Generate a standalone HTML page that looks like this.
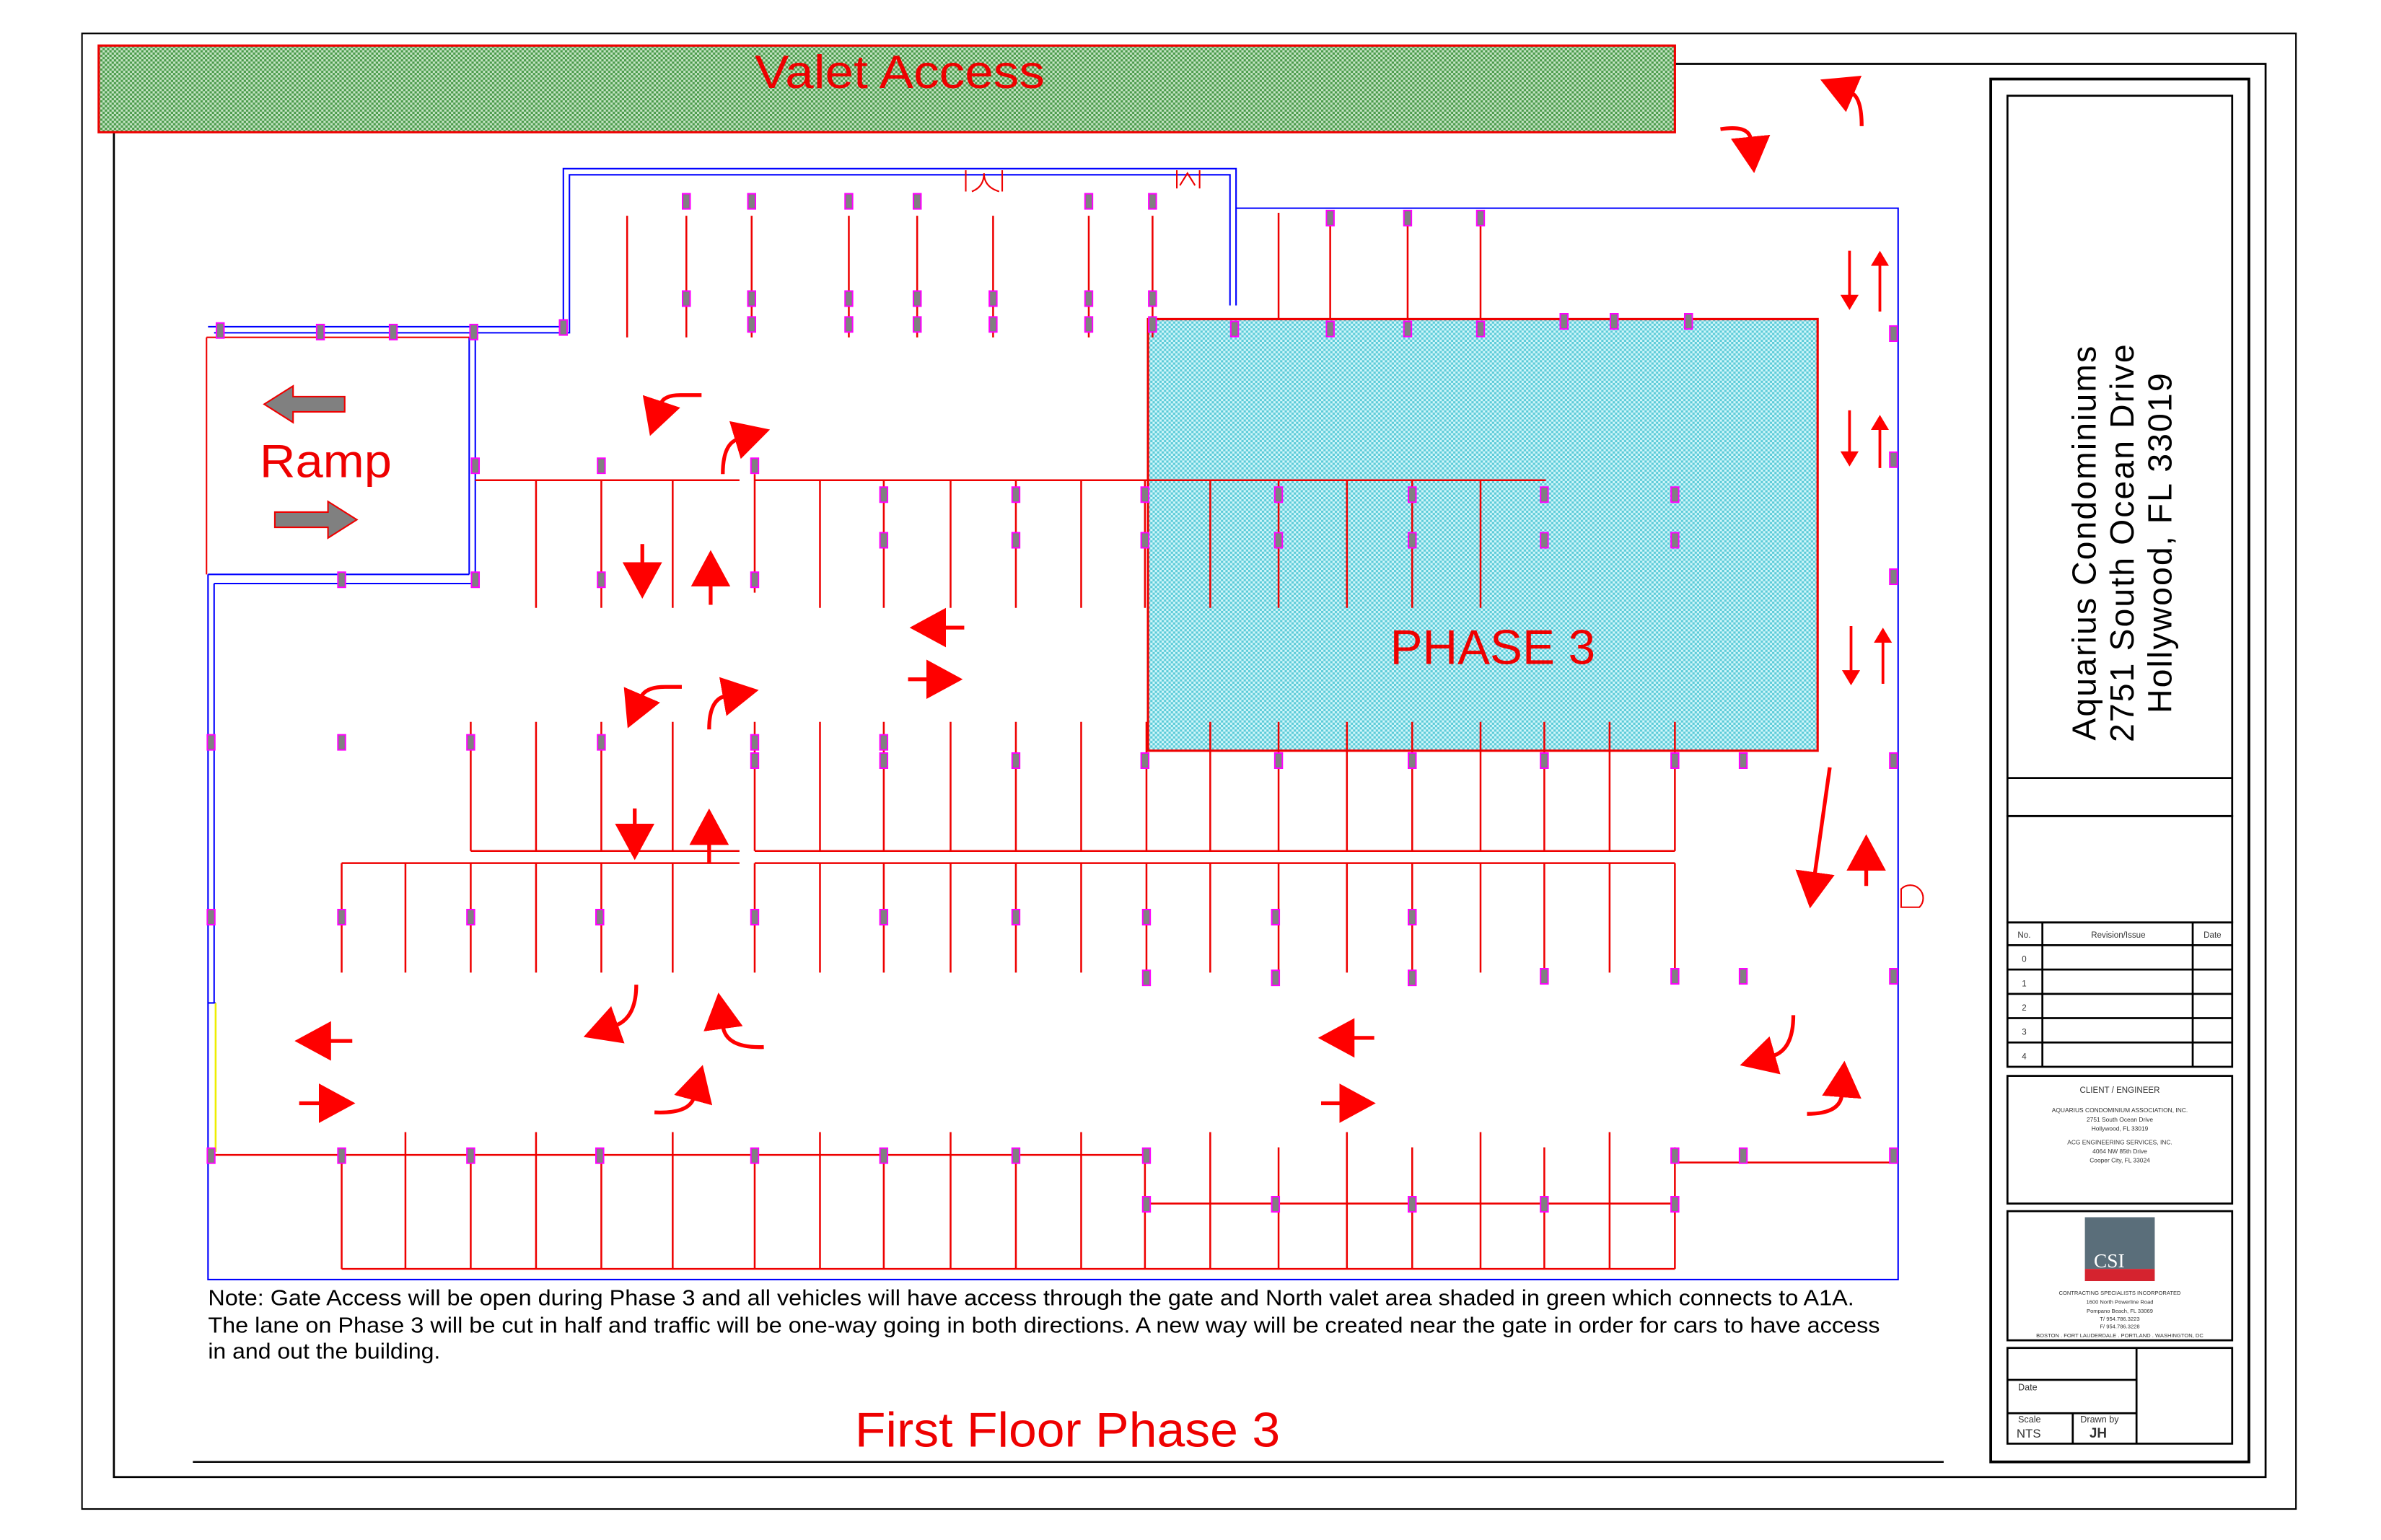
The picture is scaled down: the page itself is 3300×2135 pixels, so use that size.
<!DOCTYPE html>
<html><head><meta charset="utf-8"><style>
html,body{margin:0;padding:0;background:#fff}
svg{display:block}
text{font-family:"Liberation Sans",sans-serif}
</style></head><body>
<svg width="3300" height="2135" viewBox="0 0 1568 1013.4" preserveAspectRatio="none" xmlns="http://www.w3.org/2000/svg">
<defs>
<pattern id="g" width="3" height="3" patternUnits="userSpaceOnUse"><rect width="3" height="3" fill="#c4e4c4"/><rect width="1.5" height="1.5" fill="#4a9a4a"/><rect x="1.5" y="1.5" width="1.5" height="1.5" fill="#4a9a4a"/></pattern>
<pattern id="c" width="3" height="3" patternUnits="userSpaceOnUse"><rect width="3" height="3" fill="#d0f6fa"/><rect width="1.5" height="1.5" fill="#5ccbd8"/><rect x="1.5" y="1.5" width="1.5" height="1.5" fill="#5ccbd8"/></pattern>
<marker id="a" markerWidth="24" markerHeight="26" refX="2" refY="13" orient="auto" markerUnits="userSpaceOnUse"><path d="M0,0 L24,13 L0,26z" fill="#f00"/></marker>
<marker id="s" markerWidth="10" markerHeight="12" refX="1" refY="6" orient="auto" markerUnits="userSpaceOnUse"><path d="M0,0 L10,6 L0,12z" fill="#f00"/></marker>
<symbol id="p" viewBox="0 0 6 11" width="6" height="11"><rect x="0.5" y="0.5" width="5" height="10" fill="#808080" stroke="#f0f" stroke-width="1"/></symbol>
</defs>
<rect x="0" y="0" width="1568" height="1014" fill="#fff"/>
<rect x="54" y="22" width="1458" height="971" fill="none" stroke="#000" stroke-width="1"/>
<path d="M75,87 V972 H1492 V42 H1103" fill="none" stroke="#000" stroke-width="1.3"/>
<rect x="1311" y="52" width="170" height="910" fill="none" stroke="#000" stroke-width="1.8"/>
<g fill="none" stroke="#000" stroke-width="1.3">
<rect x="1322" y="63" width="148" height="474"/><line x1="1322" y1="512" x2="1470" y2="512"/>
<rect x="1322" y="537" width="148" height="70"/>
<rect x="1322" y="607" width="148" height="95"/>
<line x1="1322" y1="622" x2="1470" y2="622"/><line x1="1322" y1="638" x2="1470" y2="638"/><line x1="1322" y1="654" x2="1470" y2="654"/><line x1="1322" y1="670" x2="1470" y2="670"/><line x1="1322" y1="686" x2="1470" y2="686"/>
<line x1="1345" y1="607" x2="1345" y2="702"/><line x1="1444" y1="607" x2="1444" y2="702"/>
<rect x="1322" y="708" width="148" height="84"/>
<rect x="1322" y="797" width="148" height="85"/>
<rect x="1322" y="887" width="148" height="63"/>
<line x1="1407" y1="887" x2="1407" y2="950"/><line x1="1322" y1="908" x2="1407" y2="908"/><line x1="1322" y1="930" x2="1407" y2="930"/><line x1="1365" y1="930" x2="1365" y2="950"/>
</g>
<g font-size="5.5" fill="#333" text-anchor="middle">
<text x="1333" y="617">No.</text><text x="1395" y="617">Revision/Issue</text><text x="1457" y="617">Date</text>
<text x="1333" y="633">0</text><text x="1333" y="649">1</text><text x="1333" y="665">2</text><text x="1333" y="681">3</text><text x="1333" y="697">4</text>
<text x="1396" y="719">CLIENT / ENGINEER</text>
<text x="1396" y="732" font-size="4">AQUARIUS CONDOMINIUM ASSOCIATION, INC.</text>
<text x="1396" y="738" font-size="4">2751 South Ocean Drive</text>
<text x="1396" y="744" font-size="4">Hollywood, FL 33019</text>
<text x="1396" y="753" font-size="4">ACG ENGINEERING SERVICES, INC.</text>
<text x="1396" y="759" font-size="4">4064 NW 85th Drive</text>
<text x="1396" y="765" font-size="4">Cooper City, FL 33024</text>
<text x="1396" y="852" font-size="3.6">CONTRACTING SPECIALISTS INCORPORATED</text>
<text x="1396" y="858" font-size="3.6">1600 North Powerline Road</text>
<text x="1396" y="864" font-size="3.6">Pompano Beach, FL 33069</text>
<text x="1396" y="869" font-size="3.6">T/ 954.786.3223</text>
<text x="1396" y="874" font-size="3.6">F/ 954.786.3228</text>
<text x="1396" y="880" font-size="3.6">BOSTON . FORT LAUDERDALE . PORTLAND . WASHINGTON, DC</text>
</g>
<rect x="1373" y="801" width="46" height="34" fill="#5a6e7a"/><rect x="1373" y="835" width="46" height="8" fill="#d5232f"/>
<text x="1389" y="834" font-size="13" fill="#fff" text-anchor="middle" style="font-family:'Liberation Serif',serif">CSI</text>
<g font-size="6" fill="#333"><text x="1329" y="915">Date</text><text x="1329" y="936">Scale</text><text x="1370" y="936">Drawn by</text>
<text x="1328" y="946" font-size="8">NTS</text><text x="1376" y="946" font-size="9" font-weight="bold">JH</text></g>
<g transform="translate(1400,357) rotate(-90)" font-size="22" fill="#000" text-anchor="middle" letter-spacing="1">
<text x="0" y="-20">Aquarius Condominiums</text><text x="0" y="5">2751 South Ocean Drive</text><text x="0" y="30">Hollywood, FL 33019</text>
</g>
<rect x="65" y="30" width="1038" height="57" fill="url(#g)" stroke="#e00" stroke-width="1.5"/>
<text x="497" y="58" font-size="31" fill="#e00" textLength="191" lengthAdjust="spacingAndGlyphs">Valet Access</text>
<rect x="756" y="210" width="441" height="284" fill="url(#c)" stroke="#e00" stroke-width="1.5"/>
<text x="983" y="437" font-size="32" fill="#e00" text-anchor="middle">PHASE 3</text>
<g fill="none" stroke="#00f" stroke-width="1">
<path d="M137,215 H371 V111 H814 V201"/><path d="M141,219 H375 V115 H810 V201"/>
<path d="M814,137 H1250 V842 H137 V660"/>
<path d="M309,222 V378 M313,222 V384 M137,378 H309 M141,384 H313 M141,384 V660 M137,378 V660 M137,660 H142"/>
</g>
<line x1="142" y1="660" x2="142" y2="758" stroke="#ee0" stroke-width="1.2"/>
<path d="M136,222 V378 M136,222 H309" fill="none" stroke="#e00" stroke-width="1"/>
<g stroke="#e00" fill="none" stroke-width="1"><path d="M636,112 v14 M660,112 v14 M640,126 q8,-3 8,-12 q0,9 10,12"/><path d="M775,112 v12 M790,112 v12 M777,122 l5,-8 l5,8"/><path d="M1252,585 a8,8 0 0 1 12,12 h-12z"/></g>
<g stroke="#e00" stroke-width="1.2" fill="none">
<path d="M413,142V222 M452,142V222 M495,142V222 M559,142V222 M604,142V222 M654,142V222 M717,142V222 M759,142V222 M842,140V210 M876,140V210 M927,140V210 M975,140V210"/>
<path d="M313,316H487 M497,316H1018"/>
<path d="M353,316V400 M396,316V400 M443,316V400 M497,312V390 M540,316V400 M582,316V400 M626,316V400 M669,316V400 M712,316V400 M754,316V400 M797,316V400 M842,316V400 M887,316V400 M930,316V400 M975,316V400"/>
<path d="M310,560H487 M497,560H1103"/>
<path d="M310,475V560 M353,475V560 M396,475V560 M443,475V560 M497,475V560 M540,475V560 M582,475V560 M626,475V560 M669,475V560 M712,475V560 M755,475V560 M797,475V560 M842,475V560 M887,475V560 M930,475V560 M975,475V560 M1017,475V560 M1060,475V560 M1103,475V560"/>
<path d="M225,568H487 M497,568H1103"/>
<path d="M225,568V640 M267,568V640 M310,568V640 M353,568V640 M396,568V640 M443,568V640 M497,568V640 M540,568V640 M582,568V640 M626,568V640 M669,568V640 M712,568V640 M755,568V640 M797,568V640 M842,568V640 M887,568V640 M930,568V640 M975,568V640 M1017,568V640 M1060,568V640 M1103,568V640"/>
<path d="M137,760H754 M225,835H1103 M754,792H1103 M1103,765H1250"/>
<path d="M225,760V835 M267,745V835 M310,760V835 M353,745V835 M396,760V835 M443,745V835 M497,760V835 M540,745V835 M582,760V835 M626,745V835 M669,760V835 M712,745V835 M754,760V835 M797,745V835 M842,755V835 M887,745V835 M930,755V835 M975,745V835 M1017,755V835 M1060,745V835 M1103,755V835"/>
</g>
<g>
<use href="#p" x="449" y="127"/><use href="#p" x="492" y="127"/><use href="#p" x="556" y="127"/><use href="#p" x="601" y="127"/><use href="#p" x="714" y="127"/><use href="#p" x="756" y="127"/>
<use href="#p" x="449" y="191"/><use href="#p" x="492" y="191"/><use href="#p" x="556" y="191"/><use href="#p" x="601" y="191"/><use href="#p" x="651" y="191"/><use href="#p" x="714" y="191"/><use href="#p" x="756" y="191"/>
<use href="#p" x="492" y="208"/><use href="#p" x="556" y="208"/><use href="#p" x="601" y="208"/><use href="#p" x="651" y="208"/><use href="#p" x="714" y="208"/><use href="#p" x="756" y="208"/><use href="#p" x="810" y="211"/><use href="#p" x="873" y="211"/><use href="#p" x="924" y="211"/><use href="#p" x="972" y="211"/><use href="#p" x="1027" y="206"/><use href="#p" x="1060" y="206"/><use href="#p" x="1109" y="206"/>
<use href="#p" x="873" y="138"/><use href="#p" x="924" y="138"/><use href="#p" x="972" y="138"/>
<use href="#p" x="142" y="212"/><use href="#p" x="208" y="213"/><use href="#p" x="256" y="213"/><use href="#p" x="309" y="213"/><use href="#p" x="368" y="210"/><use href="#p" x="1244" y="214"/>
<use href="#p" x="310" y="301"/><use href="#p" x="393" y="301"/><use href="#p" x="494" y="301"/><use href="#p" x="1244" y="297"/>
<use href="#p" x="579" y="320"/><use href="#p" x="666" y="320"/><use href="#p" x="751" y="320"/><use href="#p" x="839" y="320"/><use href="#p" x="927" y="320"/><use href="#p" x="1014" y="320"/><use href="#p" x="1100" y="320"/>
<use href="#p" x="579" y="350"/><use href="#p" x="666" y="350"/><use href="#p" x="751" y="350"/><use href="#p" x="839" y="350"/><use href="#p" x="927" y="350"/><use href="#p" x="1014" y="350"/><use href="#p" x="1100" y="350"/>
<use href="#p" x="222" y="376"/><use href="#p" x="310" y="376"/><use href="#p" x="393" y="376"/><use href="#p" x="494" y="376"/><use href="#p" x="1244" y="374"/>
<use href="#p" x="136" y="483"/><use href="#p" x="222" y="483"/><use href="#p" x="307" y="483"/><use href="#p" x="393" y="483"/><use href="#p" x="494" y="483"/><use href="#p" x="579" y="483"/>
<use href="#p" x="494" y="495"/><use href="#p" x="579" y="495"/><use href="#p" x="666" y="495"/><use href="#p" x="751" y="495"/><use href="#p" x="839" y="495"/><use href="#p" x="927" y="495"/><use href="#p" x="1014" y="495"/><use href="#p" x="1100" y="495"/><use href="#p" x="1145" y="495"/><use href="#p" x="1244" y="495"/>
<use href="#p" x="136" y="598"/><use href="#p" x="222" y="598"/><use href="#p" x="307" y="598"/><use href="#p" x="392" y="598"/><use href="#p" x="494" y="598"/><use href="#p" x="579" y="598"/><use href="#p" x="666" y="598"/><use href="#p" x="752" y="598"/><use href="#p" x="837" y="598"/><use href="#p" x="927" y="598"/>
<use href="#p" x="752" y="638"/><use href="#p" x="837" y="638"/><use href="#p" x="927" y="638"/><use href="#p" x="1014" y="637"/><use href="#p" x="1100" y="637"/><use href="#p" x="1145" y="637"/><use href="#p" x="1244" y="637"/>
<use href="#p" x="136" y="755"/><use href="#p" x="222" y="755"/><use href="#p" x="307" y="755"/><use href="#p" x="392" y="755"/><use href="#p" x="494" y="755"/><use href="#p" x="579" y="755"/><use href="#p" x="666" y="755"/><use href="#p" x="752" y="755"/><use href="#p" x="1100" y="755"/><use href="#p" x="1145" y="755"/><use href="#p" x="1244" y="755"/>
<use href="#p" x="752" y="787"/><use href="#p" x="837" y="787"/><use href="#p" x="927" y="787"/><use href="#p" x="1014" y="787"/><use href="#p" x="1100" y="787"/>
</g>
<text x="171" y="314" font-size="31" fill="#e00" textLength="87" lengthAdjust="spacingAndGlyphs">Ramp</text>
<path d="M227,261 H193 V254 L174,266 L193,278 V271 H227z" fill="#808080" stroke="#e00" stroke-width="1"/>
<path d="M181,337 H216 V330 L235,342 L216,354 V347 H181z" fill="#808080" stroke="#e00" stroke-width="1"/>
<g stroke="#f00" stroke-width="2.5" fill="none" marker-end="url(#a)">
<path d="M423,358 V372"/><path d="M468,398 V384"/><path d="M635,413 H621"/><path d="M598,447 H612"/>
<path d="M418,532 V544"/><path d="M467,568 V554"/><path d="M232,685 H216"/><path d="M197,726 H212"/>
<path d="M905,683 H890"/><path d="M870,726 H884"/><path d="M1205,505 L1195,576"/><path d="M1229,583 V571"/>
<path d="M462,260 H448 Q437,260 435,266"/><path d="M476,312 Q476,292 486,289"/>
<path d="M449,452 H438 Q425,452 422,459"/><path d="M467,480 Q467,460 478,458"/>
<path d="M419,648 Q419,670 405,675"/><path d="M503,689 Q478,690 476,675"/>
<path d="M431,732 Q454,733 457,722"/><path d="M1181,668 Q1181,691 1167,695"/><path d="M1190,733 Q1212,733 1213,720"/>
<path d="M1133,85 Q1152,82 1153,92"/><path d="M1226,83 Q1226,64 1219,61"/>
</g>
<g stroke="#f00" stroke-width="1.8" fill="none" marker-end="url(#s)">
<path d="M1218,165 V195"/><path d="M1238,205 V174"/><path d="M1218,270 V298"/><path d="M1238,308 V282"/><path d="M1219,412 V442"/><path d="M1240,450 V422"/>
</g>
<g font-size="14.5" fill="#000" lengthAdjust="spacingAndGlyphs">
<text x="137" y="859" textLength="1084" lengthAdjust="spacingAndGlyphs">Note: Gate Access will be open during Phase 3 and all vehicles will have access through the gate and North valet area shaded in green which connects to A1A.</text>
<text x="137" y="877" textLength="1101" lengthAdjust="spacingAndGlyphs">The lane on Phase 3 will be cut in half and traffic will be one-way going in both directions. A new way will be created near the gate in order for cars to have access</text>
<text x="137" y="894" textLength="153" lengthAdjust="spacingAndGlyphs">in and out the building.</text>
</g>
<text x="563" y="952" font-size="32" fill="#e00" textLength="280" lengthAdjust="spacingAndGlyphs">First Floor Phase 3</text>
<line x1="127" y1="962" x2="1280" y2="962" stroke="#000" stroke-width="1.2"/>
</svg>
</body></html>
